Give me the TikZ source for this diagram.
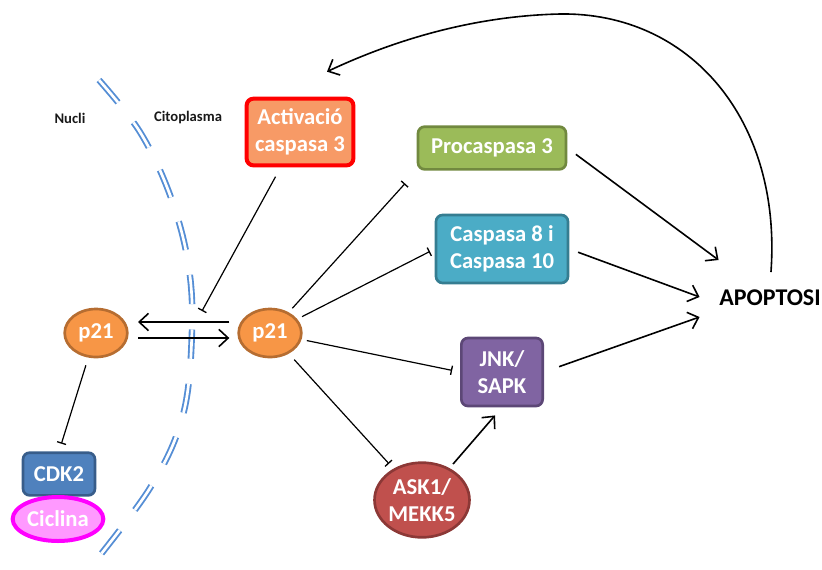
\documentclass[tikz,border=0pt]{standalone}
\usepackage{fontspec}
\setmainfont{Carlito}
\usetikzlibrary{shapes.geometric,arrows.meta}
\definecolor{actfill}{HTML}{F79A66}
\definecolor{actline}{HTML}{FF0000}
\definecolor{procfill}{HTML}{9BBB59}
\definecolor{procline}{HTML}{71893F}
\definecolor{caspfill}{HTML}{4BACC6}
\definecolor{caspline}{HTML}{357D91}
\definecolor{jnkfill}{HTML}{8064A2}
\definecolor{jnkline}{HTML}{5C4776}
\definecolor{askfill}{HTML}{C0504D}
\definecolor{askline}{HTML}{8C3836}
\definecolor{pfill}{HTML}{F79646}
\definecolor{pline}{HTML}{B66D31}
\definecolor{cdkfill}{HTML}{4F81BD}
\definecolor{cdkline}{HTML}{385D8A}
\definecolor{cicfill}{HTML}{FF99FF}
\definecolor{cicline}{HTML}{FF00FF}
\definecolor{membr}{HTML}{558ED5}
\newcommand{\boxfont}{\fontsize{17}{20}\selectfont\bfseries}
\tikzset{
	box/.style={draw, rounded corners=5pt, line width=2pt, text=white,
		font=\boxfont, align=center, inner sep=0pt},
	bubble/.style={ellipse, draw, line width=2pt, text=white,
		font=\boxfont, align=center, inner sep=0pt},
	region/.style={font=\fontsize{11}{13}\selectfont\bfseries, text=black!90},
	act/.style={-{Straight Barb[length=7pt,width=13pt,line width=1.2pt]}, line width=1.2pt},
	inh/.style={-{Bar[width=7pt,line width=1pt]}, line width=0.9pt},
	membrane/.style={draw=membr, line width=1.4pt, double=white, double distance=2pt,
		dash pattern=on 22pt off 19pt},
}
\begin{document}
\begin{tikzpicture}[x=0.75pt,y=-0.75pt]
		\useasboundingbox (0,0) rectangle (822,569);

		%% Membrane
		\draw[membrane] plot[smooth, tension=0.6] coordinates
			{(99,80) (140,132) (170,195) (188,262) (192,330) (183,415) (150,488) (85,574)};

		\node[region] at (70,118)(nucli){Nucli};
		\node[region] at (188,118)(cito){Citoplasma};

		%% Nodes
		\node[box, fill=actfill, draw=actline, line width=3pt,
			minimum width=80pt, minimum height=50pt] at (300,132)(act){Activació\\caspasa 3};
		\node[box, fill=procfill, draw=procline,
			minimum width=111pt, minimum height=32pt] at (492,148)(proc){Procaspasa 3};
		\node[box, fill=caspfill, draw=caspline,
			minimum width=99pt, minimum height=51pt] at (502,249)(casp){Caspasa 8 i\\Caspasa 10};
		\node[box, fill=jnkfill, draw=jnkline,
			minimum width=61pt, minimum height=51pt] at (502,372)(jnk){JNK/\\SAPK};
		\node[bubble, fill=askfill, draw=askline,
			minimum width=68pt, minimum height=56pt] at (422,500)(ask){ASK1/\\MEKK5};

		\node[bubble, fill=pfill, draw=pline,
			minimum width=47pt, minimum height=36pt] at (96,333)(p21l){p21};
		\node[bubble, fill=pfill, draw=pline,
			minimum width=47pt, minimum height=36pt] at (270,333)(p21r){p21};

		\node[box, fill=cdkfill, draw=cdkline,
			minimum width=54pt, minimum height=32pt] at (59,474)(cdk){CDK2};
		\node[bubble, fill=cicfill, draw=cicline, line width=3pt,
			minimum width=68pt, minimum height=33pt] at (58,519)(cic){Ciclina};

		\node[font=\fontsize{18}{20}\selectfont\bfseries] at (770,298)(apo){APOPTOSI};
		\coordinate (actbar) at (202,311);

		%% Transport
		\draw[act, shorten <=6pt, shorten >=7pt]
			([yshift=8.25pt]p21r.west)--([yshift=8.25pt]p21l.east);
		\draw[act, shorten <=7pt, shorten >=6pt]
			([yshift=-3.75pt]p21l.east)--([yshift=-3.75pt]p21r.west);

		%% Inhibitions
		\draw[inh, shorten <=8pt] (act)--(actbar);
		\draw[inh, shorten <=4pt, shorten >=13pt] (p21r)--(proc.south west);
		\draw[inh, shorten <=4pt, shorten >=4pt] (p21r)--(casp.west);
		\draw[inh, shorten <=4pt, shorten >=6pt] (p21r)--(jnk.west);
		\draw[inh, shorten <=6pt, shorten >=5pt] (p21r)--(ask);
		\draw[inh, shorten <=6pt, shorten >=6pt] (p21l)--(cdk.north);

		%% Activations
		\draw[act, shorten <=4pt, shorten >=8pt] (ask)--(jnk.south);
		\draw[act, shorten <=8pt] (proc.east)--([shift={(4,-38)}]apo.west);
		\draw[act, shorten <=7pt] (casp.east)--([shift={(-15,-1)}]apo.west);
		\draw[act, shorten <=12pt] (jnk.east)--([shift={(-15,19)}]apo.west);

		\draw[act, shorten <=10pt]
			(apo.north) .. controls (782,120) and (690,12) .. (560,14)
			.. controls (470,16) and (390,42) .. ([shift={(27,-25)}]act.north);
\end{tikzpicture}
\end{document}
